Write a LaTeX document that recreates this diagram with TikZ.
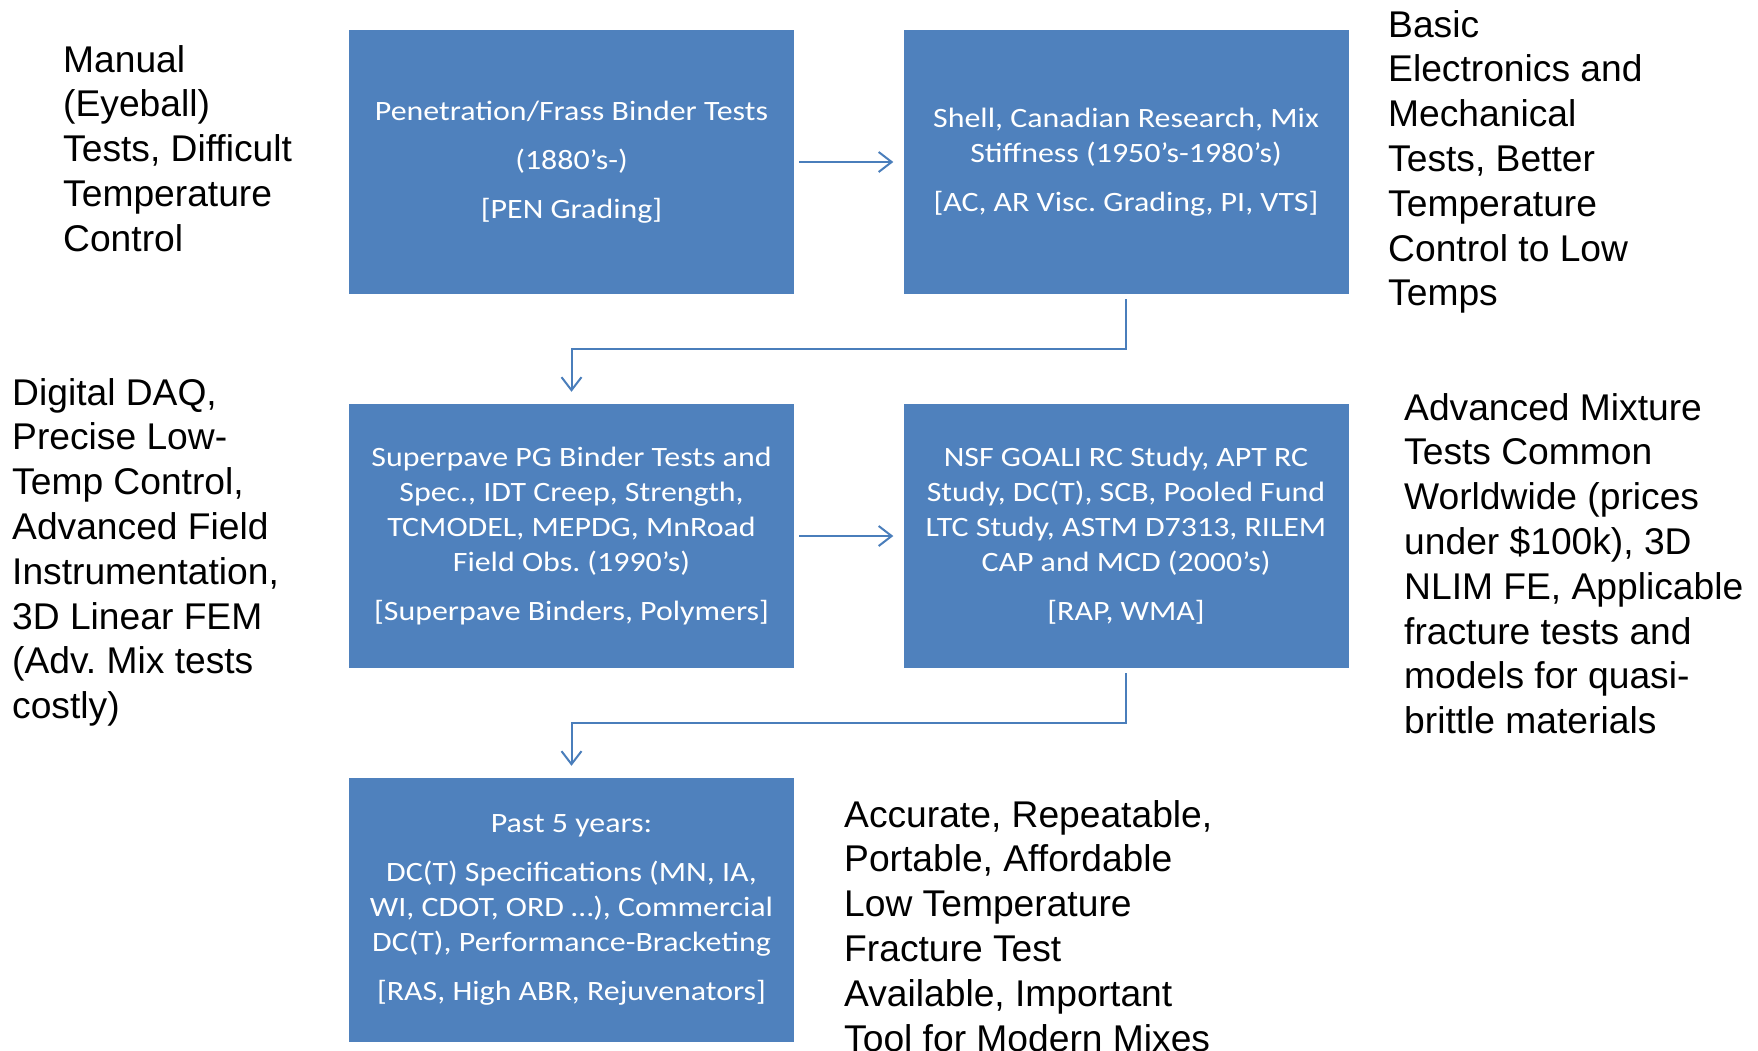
\documentclass[tikz,border=0pt]{standalone}
\usepackage{fontspec}
\setmainfont{Liberation Sans}
\newfontfamily\boxfont[FakeStretch=1.14]{Carlito}
\usetikzlibrary{arrows.meta}
\definecolor{boxblue}{HTML}{4F81BD}
\definecolor{arrowblue}{HTML}{4A7EBB}
\frenchspacing
\begin{document}
\begin{tikzpicture}[x=1pt,y=-1pt,
  stage/.style={fill=boxblue, draw=none, minimum width=445pt, minimum height=264pt,
    inner sep=0pt, align=center, text=white, font=\frenchspacing\boxfont\fontsize{28}{35}\selectfont},
  note/.style={anchor=base west, inner sep=0pt, align=left, text=black,
    font=\frenchspacing\fontsize{37.2}{44.8}\selectfont},
  flow/.style={draw=arrowblue, line width=2pt, -{Straight Barb[length=13pt,width=20pt,line width=2pt]}}]
\useasboundingbox (0,0) rectangle (1758,1050);
\fill[white] (0,0) rectangle (1758,1050);

\node[stage] (b1) at (571.5,162) {Penetration/Frass Binder Tests\\[14pt](1880’s-)\\[14pt][PEN Grading]};
\node[stage] (b2) at (1126,162) {Shell, Canadian Research, Mix\\Stiffness (1950’s-1980’s)\\[14pt][AC, AR Visc. Grading, PI, VTS]};
\node[stage] (b3) at (571.5,536) {Superpave PG Binder Tests and\\Spec., IDT Creep, Strength,\\TCMODEL, MEPDG, MnRoad\\Field Obs. (1990’s)\\[14pt][Superpave Binders, Polymers]};
\node[stage] (b4) at (1126,536) {NSF GOALI RC Study, APT RC\\Study, DC(T), SCB, Pooled Fund\\LTC Study, ASTM D7313, RILEM\\CAP and MCD (2000’s)\\[14pt][RAP, WMA]};
\node[stage] (b5) at (571.5,910) {Past 5 years:\\[14pt]DC(T) Specifications (MN, IA,\\WI, CDOT, ORD …), Commercial\\DC(T), Performance-Bracketing\\[14pt][RAS, High ABR, Rejuvenators]};

\draw[flow] ([xshift=5pt]b1.east) -- ([xshift=-10pt]b2.west);
\draw[flow] ([xshift=5pt]b3.east) -- ([xshift=-10pt]b4.west);
\draw[flow] ([yshift=-5pt]b2.south) -- ++(0,50) -| ([yshift=12pt]b3.north);
\draw[flow] ([yshift=-5pt]b4.south) -- ++(0,50) -| ([yshift=12pt]b5.north);

% anchor base = baseline of the last line
\node[note] (n1) at (63,251.2) {Manual\\(Eyeball)\\Tests, Difficult\\Temperature\\Control};
\node[note] (n2) at (12,718.6) {Digital DAQ,\\Precise Low-\\Temp Control,\\Advanced Field\\Instrumentation,\\3D Linear FEM\\(Adv. Mix tests\\costly)};
\node[note] (n3) at (1388,305.8) {Basic\\Electronics and\\Mechanical\\Tests, Better\\Temperature\\Control to Low\\Temps};
\node[note] (n4) at (1404,733.6) {Advanced Mixture\\Tests Common\\Worldwide (prices\\under \$100k), 3D\\NLIM FE, Applicable\\fracture tests and\\models for quasi-\\brittle materials};
\node[note] (n5) at (844,1051) {Accurate, Repeatable,\\Portable, Affordable\\Low Temperature\\Fracture Test\\Available, Important\\Tool for Modern Mixes};
\end{tikzpicture}
\end{document}
